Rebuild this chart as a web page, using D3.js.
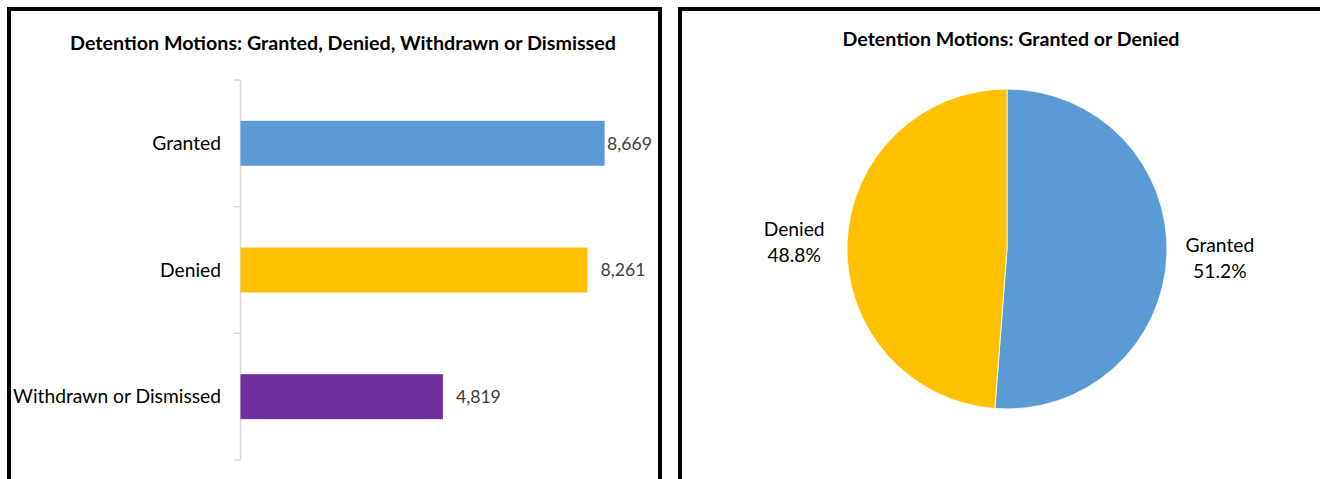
<!DOCTYPE html>
<html>
<head>
<meta charset="utf-8">
<script src="https://cdn.jsdelivr.net/npm/d3@7"></script>
<style>
  html, body { margin: 0; padding: 0; background: #fff; }
  svg { display: block; }
  text { font-family: Lato, "Open Sans", sans-serif; }
</style>
</head>
<body>
<svg id="chart" width="1320" height="479"></svg>
<script>
// ---- Data ----
const barTitle = "Detention Motions: Granted, Denied, Withdrawn or Dismissed";
const pieTitle = "Detention Motions: Granted or Denied";
const categories = ["Granted", "Denied", "Withdrawn or Dismissed"];
const values = [8669, 8261, 4819];
const barColors = ["#5B9BD5", "#FFC000", "#7030A0"];
const pieCategories = ["Granted", "Denied"];
const pieValues = [8669, 8261];
const pieColors = ["#5B9BD5", "#FFC000"];

const svg = d3.select("#chart");

// fit text width helper
function fit(sel, target) {
  const w = sel.node().getComputedTextLength();
  const fs = parseFloat(sel.attr("font-size"));
  sel.attr("font-size", (fs * target / w).toFixed(2));
}

// ---- Panel borders ----
svg.append("rect").attr("x", 9).attr("y", 9).attr("width", 651).attr("height", 500)
  .attr("fill", "none").attr("stroke", "#000").attr("stroke-width", 4);
svg.append("rect").attr("x", 680).attr("y", 9).attr("width", 700).attr("height", 500)
  .attr("fill", "none").attr("stroke", "#000").attr("stroke-width", 4);

// ---- Bar chart ----
const x = d3.scaleLinear().domain([0, 10000]).range([240.5, 660.5]);
const y = d3.scaleBand().domain(categories).range([80, 460]).paddingInner(0.645).paddingOuter(0.3225);

const t1 = svg.append("text").attr("x", 343).attr("y", 50).attr("text-anchor", "middle")
  .attr("font-weight", "bold").attr("font-size", 17).attr("fill", "#000").text(barTitle);
fit(t1, 546);

// axis
const yAxis = d3.axisLeft(y).tickSize(0).tickFormat("");
const ag = svg.append("g").attr("transform", "translate(240,0)").call(yAxis);
ag.select(".domain").attr("stroke", "#D9D9D9").attr("stroke-width", 1.5);
// category boundary ticks
const step = (460 - 80) / categories.length;
ag.selectAll(".bt").data(d3.range(categories.length + 1)).join("line")
  .attr("x1", -6).attr("x2", 0)
  .attr("y1", i => 80 + i * step).attr("y2", i => 80 + i * step)
  .attr("stroke", "#D9D9D9").attr("stroke-width", 1.5);

svg.selectAll(".bar").data(values).join("rect")
  .attr("x", x(0))
  .attr("y", (d, i) => y(categories[i]))
  .attr("width", d => x(d) - x(0))
  .attr("height", y.bandwidth())
  .attr("fill", (d, i) => barColors[i]);

// category labels
const catLabels = svg.selectAll(".cat").data(categories).join("text")
  .attr("x", 221).attr("y", d => y(d) + y.bandwidth() / 2)
  .attr("dy", "0.35em").attr("text-anchor", "end")
  .attr("font-size", 18).attr("fill", "#000").text(d => d);
fit(d3.select(catLabels.nodes()[2]), 208);
const catFs = d3.select(catLabels.nodes()[2]).attr("font-size");
catLabels.attr("font-size", catFs);

// value labels
const fmt = d3.format(",");
const valLabels = svg.selectAll(".val").data(values).join("text")
  .attr("y", (d, i) => y(categories[i]) + y.bandwidth() / 2)
  .attr("dy", "0.35em")
  .attr("font-size", 17).attr("fill", "#404040").text(d => fmt(d));
fit(d3.select(valLabels.nodes()[2]), 45);
const vFs = d3.select(valLabels.nodes()[2]).attr("font-size");
valLabels.attr("font-size", vFs);
valLabels.each(function(d) {
  const w = this.getComputedTextLength();
  let px = x(d) + 13;
  if (px + w > 652) px = Math.max(x(d) + 2, 652 - w);
  d3.select(this).attr("x", px);
});

// ---- Pie chart ----
const t2 = svg.append("text").attr("x", 1011).attr("y", 46).attr("text-anchor", "middle")
  .attr("font-weight", "bold").attr("font-size", 17).attr("fill", "#000").text(pieTitle);
fit(t2, 337);

const cx = 1007, cy = 249, r = 160;
const pie = d3.pie().sort(null).value(d => d);
const arcs = pie(pieValues);
const arc = d3.arc().innerRadius(0).outerRadius(r);
const pg = svg.append("g").attr("transform", `translate(${cx},${cy})`);
pg.selectAll("path").data(arcs).join("path")
  .attr("d", arc).attr("fill", (d, i) => pieColors[i])
  .attr("stroke", "#fff").attr("stroke-width", 0.8);

const total = d3.sum(pieValues);
const pct = d3.format(".1%");
const labelR = r + 53;
arcs.forEach((a, i) => {
  const ang = (a.startAngle + a.endAngle) / 2;
  const lx = Math.sin(ang) * labelR;
  const ly = -Math.cos(ang) * labelR;
  const g = pg.append("text").attr("text-anchor", "middle").attr("fill", "#000")
    .attr("font-size", catFs);
  g.append("tspan").attr("x", lx).attr("y", ly - 5).text(pieCategories[i]);
  g.append("tspan").attr("x", lx).attr("y", ly + 21).text(pct(a.value / total));
});
</script>
</body>
</html>
